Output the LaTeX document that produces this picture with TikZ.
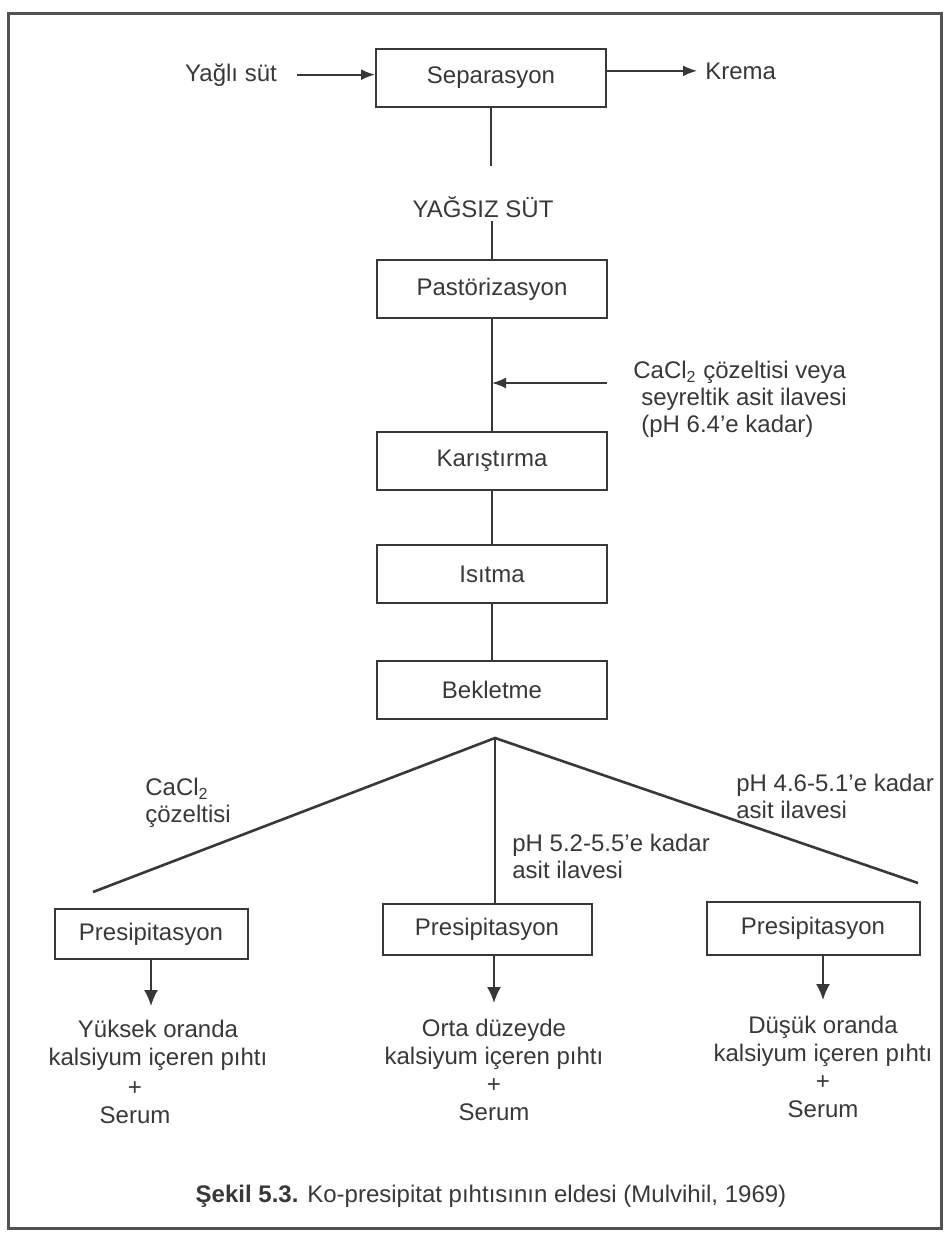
\documentclass[tikz,border=0pt]{standalone}
\usepackage{fontspec}
\setmainfont{Liberation Sans}
\usepackage{tikz}
\usetikzlibrary{arrows.meta}
\definecolor{inkgray}{gray}{0.22}
\definecolor{framegray}{gray}{0.32}

\begin{document}
\begin{tikzpicture}[x=0.5pt, y=-0.5pt, font=\fontsize{12}{14}\selectfont, text=inkgray,
		stepbox/.style={draw=inkgray, line width=1pt, inner sep=0pt, minimum width=115pt, minimum height=29pt},
		precbox/.style={draw=inkgray, line width=1pt, inner sep=0pt, minimum height=25.5pt},
		plain/.style={inner sep=0pt},
		notes/.style={inner sep=0pt, align=left, anchor=north west, font=\fontsize{12}{13.5}\selectfont},
		link/.style={draw=inkgray, line width=0.9pt},
		feed/.style={link, -{Latex[length=7pt, width=5.5pt]}},
		drop/.style={link, -{Latex[length=8pt, width=7pt]}},
		branch/.style={draw=inkgray, line width=1.3pt}]
			\useasboundingbox (0,0) rectangle (951,1233);
			% outer frame
			\draw[framegray, line width=1.5pt] (8,13) rectangle (941,1228);

			% main line
			\node[stepbox] (sep) at (491,78) {Separasyon};
			\node[plain, anchor=base] (skim) at (483,217) {YAĞSIZ SÜT};
			\node[stepbox] (past) at (492,289) {Pastörizasyon};
			\node[stepbox] (mix) at (492,461) {Karıştırma};
			\node[stepbox] (heat) at (492,574) {Isıtma};
			\node[stepbox] (hold) at (492,690) {Bekletme};

			% side streams
			\node[plain, anchor=base] (fat) at (231,81) {Yağlı süt};
			\node[plain, anchor=base west] (cream) at (705,79) {Krema};
			\node[notes] (addnote) at (633,361) {CaCl\textsubscript{2} çözeltisi veya\\\hspace*{4pt}seyreltik asit ilavesi\\\hspace*{4pt}(pH 6.4'e kadar)};
			\coordinate (addin) at (607,383);

			\draw[feed, shorten <=10pt] (fat.east) -- (fat.east -| sep.west);
			\draw[feed, shorten >=4pt] (sep.east |- cream.west) -- (cream.west);
			\draw[link, shorten >=15pt] (sep.south) -- (sep.south |- skim.north);
			\draw[link, shorten <=1.5pt] (past.north |- skim.south) -- (past.north);
			\draw[link] (past) -- (mix);
			\draw[feed] (addin) -- (addin -| past.south);
			\draw[link] (mix) -- (heat);
			\draw[link] (heat) -- (hold);

			% three ways
			\coordinate (apex) at (495,738);
			\coordinate (lend) at (93,892);
			\coordinate (rend) at (918,883);
			\node[precbox, minimum width=96.5pt, minimum height=25pt] (pleft) at (151,934) {Presipitasyon};
			\node[precbox, minimum width=104.5pt] (pmid) at (487,929) {Presipitasyon};
			\node[precbox, minimum width=106.5pt, minimum height=26.5pt] (pright) at (813,928) {Presipitasyon};

			\draw[branch] (lend) -- (apex) -- (rend);
			\draw[link] (apex) -- (apex |- pmid.north);

			\node[notes] (lnote) at (145,778) {CaCl\textsubscript{2}\\çözeltisi};
			\node[notes] (mnote) at (512,834) {pH 5.2-5.5'e kadar\\asit ilavesi};
			\node[notes] (rnote) at (736,774) {pH 4.6-5.1'e kadar\\asit ilavesi};

			% products
			\node[plain, align=center, anchor=north] (lprod) at (158,1020) {Yüksek oranda\\kalsiyum içeren pıhtı};
			\node[plain, align=center, anchor=north] (lserum) at (135,1081) {+\\Serum};
			\node[plain, align=center, anchor=north] (mprod) at (494,1019) {Orta düzeyde\\kalsiyum içeren pıhtı\\+\\Serum};
			\node[plain, align=center, anchor=north] (rprod) at (823,1016) {Düşük oranda\\kalsiyum içeren pıhtı\\+\\Serum};

			\draw[drop, shorten >=7pt] (pleft.south) -- (pleft.south |- lprod.north);
			\draw[drop, shorten >=8pt] (mprod.north |- pmid.south) -- (mprod.north);
			\draw[drop, shorten >=8pt] (rprod.north |- pright.south) -- (rprod.north);

			\node[plain, anchor=base] (caption) at (491,1202) {\textbf{Şekil 5.3.} Ko-presipitat pıhtısının eldesi (Mulvihil, 1969)};
		\end{tikzpicture}
\end{document}
